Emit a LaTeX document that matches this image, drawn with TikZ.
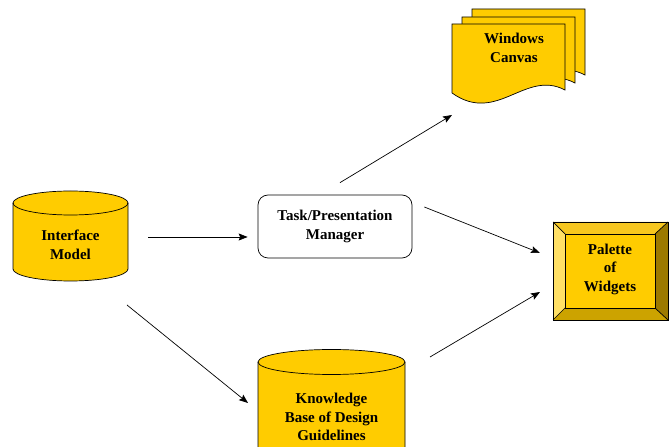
\documentclass[tikz,border=0pt]{standalone}
\usepackage{fontspec}
\setmainfont{Liberation Serif}
\usepackage{tikz}
\usetikzlibrary{arrows.meta,calc}

\definecolor{gold}{HTML}{FFCC00}
\definecolor{bevtop}{HTML}{F7C71E}
\definecolor{bevleft}{HTML}{FFE066}
\definecolor{bevright}{HTML}{9C7A00}
\definecolor{bevbottom}{HTML}{CCA300}

\begin{document}
\begin{tikzpicture}[x=1pt, y=1pt]
    \tikzstyle{lbl} = [font=\fontsize{15}{18.5}\selectfont\bfseries, align=center, inner sep=0pt]
    \tikzstyle{shp} = [draw=black, fill=gold, line width=0.7pt]
    \tikzstyle{arr} = [line width=0.7pt, -{Stealth[length=9pt, width=7pt, inset=1.5pt]}, draw=black]

    \useasboundingbox (0,0) rectangle (670,447);
    \clip (0,0) rectangle (670,447);

    % interface model cylinder
    \draw [shp] (13,244) -- (13,178) arc (180:360:57.5 and 12) -- (128,244) arc (0:180:57.5 and 12) -- cycle;
    \draw [line width=0.7pt] (13,244) arc (180:360:57.5 and 12);
    \node [lbl] (im) at (70.5,202) {Interface\\Model};

    % knowledge base cylinder
    \draw [shp] (258,85) -- (258,-5) -- (405,-5) -- (405,85) arc (0:180:73.5 and 12.5) -- cycle;
    \draw [line width=0.7pt] (258,85) arc (180:360:73.5 and 12.5);
    \node [lbl] (kb) at (331.5,30) {Knowledge\\Base of Design\\Guidelines};

    % manager box
    \node [lbl, draw=black, fill=white, line width=0.7pt, rounded corners=10pt, minimum width=154pt, minimum height=63pt] (tp) at (335,220.5) {Task/Presentation\\Manager};

    % stacked sheets
    \foreach \dx/\dy in {20/15, 10/7, 0/0} {
        \draw [shp, shift={(\dx,\dy)}] (452,354) -- (452,423) -- (565,423) -- (565,357)
            .. controls (525,378) and (497,322) .. (452,354) -- cycle;
    }
    \node [lbl] (wc) at (514,399) {Windows\\Canvas};

    % palette bevel box
    \fill [bevtop] (553,225) -- (668,225) -- (655,213) -- (565,213) -- cycle;
    \fill [bevleft] (553,225) -- (565,213) -- (565,139) -- (553,127) -- cycle;
    \fill [bevright] (668,225) -- (655,213) -- (655,139) -- (668,127) -- cycle;
    \fill [bevbottom] (553,127) -- (565,139) -- (655,139) -- (668,127) -- cycle;
    \draw [shp] (565,139) rectangle (655,213);
    \draw [line width=0.7pt] (553,127) rectangle (668,225);
    \draw [line width=0.7pt] (553,225) -- (565,213) (668,225) -- (655,213) (553,127) -- (565,139) (668,127) -- (655,139);
    \node [lbl] (pw) at (610,178) {Palette\\of\\Widgets};

    \draw [arr] ($(im)+(77.5,8)$) -- ($(tp.west)+(-10,-10.5)$);
    \draw [arr] ($(im)+(56.5,-60)$) -- ($(kb)+(-83.5,14)$);
    \draw [arr] ($(tp.north)+(5,12)$) -- ($(wc)+(-62,-67)$);
    \draw [arr] ($(tp.east)+(12,19.5)$) -- ($(pw)+(-70,16)$);
    \draw [arr] ($(kb)+(98.5,60)$) -- ($(pw)+(-70,-23)$);
\end{tikzpicture}
\end{document}
